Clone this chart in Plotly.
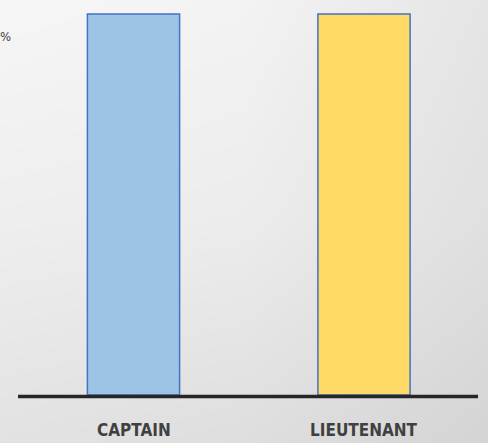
import plotly.graph_objects as go

# Data
categories = ["CAPTAIN", "LIEUTENANT"]
values = [100, 100]
bar_colors = ["#9DC3E6", "#FFD966"]

# Background gradient levels (grey values) for a soft backdrop
bg_x = [0, 0.5, 1]
bg_y = [0, 0.5, 1]
bg_z = [
    [226, 222, 212],
    [238, 236, 224],
    [246, 243, 229],
]

W, H = 488, 443

fig = go.Figure()

# background gradient on primary axes
fig.add_trace(go.Heatmap(
    x=bg_x, y=bg_y, z=bg_z, zsmooth="best", showscale=False,
    colorscale=[[0, "rgb(200,200,200)"], [1, "rgb(255,255,255)"]],
    zmin=200, zmax=255, hoverinfo="skip", xaxis="x", yaxis="y",
))

# bars
fig.add_trace(go.Bar(
    x=categories, y=values, width=0.40,
    marker=dict(color=bar_colors, line=dict(color="#4472C4", width=1.5)),
    xaxis="x2", yaxis="y2", hoverinfo="skip",
))

px_per_unit = 230.5
x0_px = 133.5
xmin = -x0_px / px_per_unit
xmax = (W - x0_px) / px_per_unit

base_px = 395
top_px = 14
ppu = (base_px - top_px) / 100.0
ymin = -(H - base_px) / ppu
ymax = 100 + top_px / ppu

fig.update_layout(
    width=W, height=H,
    margin=dict(l=0, r=0, t=0, b=0),
    paper_bgcolor="#e8e8e8", plot_bgcolor="rgba(0,0,0,0)",
    showlegend=False,
    xaxis=dict(domain=[0, 1], range=[0, 1], visible=False, fixedrange=True),
    yaxis=dict(domain=[0, 1], range=[0, 1], visible=False, fixedrange=True),
    xaxis2=dict(domain=[0, 1], range=[xmin, xmax], visible=False, anchor="y2"),
    yaxis2=dict(domain=[0, 1], range=[ymin, ymax], visible=False, anchor="x2"),
)

# baseline
fig.add_shape(type="line", xref="x2", yref="y2",
              x0=(18 - x0_px) / px_per_unit, x1=(478 - x0_px) / px_per_unit,
              y0=-0.4, y1=-0.4, line=dict(color="#262626", width=3.5))

# category labels
for i, c in enumerate(categories):
    fig.add_annotation(x=i, y=(base_px - 430) / ppu, xref="x2", yref="y2",
                       text="<b>" + c + "</b>", showarrow=False,
                       font=dict(family="DejaVu Sans Condensed", size=17, color="#404040"))

# tick label fragment at top-left
fig.add_annotation(x=0, y=1 - 37 / H, xref="paper", yref="paper", text="%",
                   showarrow=False, xanchor="left", yanchor="middle", xshift=-2,
                   font=dict(family="DejaVu Sans Condensed", size=13, color="#404040"))

fig.write_html("out.html", config={"displayModeBar": False},
               post_script="document.body.style.margin='0';document.documentElement.style.overflow='hidden';")
